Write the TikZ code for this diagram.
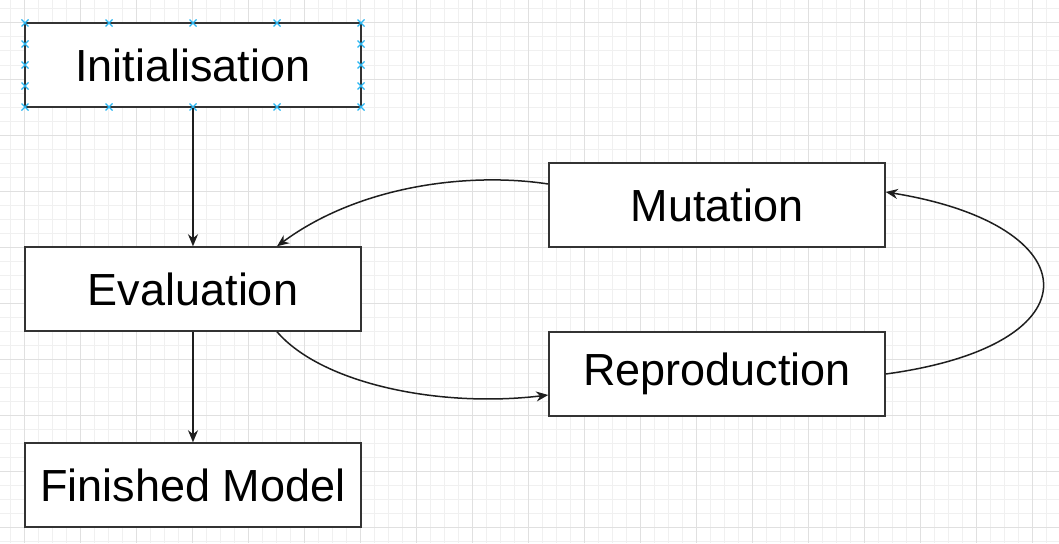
\documentclass[tikz,border=0pt]{standalone}
\usepackage{fontspec}
\setmainfont{Liberation Sans}
\usepackage{xcolor}
\usetikzlibrary{arrows.meta}

\begin{document}
\begin{tikzpicture}[x=1pt, y=-1pt,
    box/.style={draw=boxline, line width=1.5pt, fill=white, minimum width=336pt,
        minimum height=84pt, inner sep=0pt, font=\fontsize{45}{54}\selectfont},
    link/.style={draw=arrowline, line width=1.5pt, -{Stealth[length=12pt, width=10pt]}},
    minorgrid/.style={draw=black!6, line width=1pt},
    majorgrid/.style={draw=black!12, line width=1pt}]

% Define colors
\definecolor{boxline}{RGB}{51,51,51}
\definecolor{arrowline}{RGB}{30,30,30}
\definecolor{handle}{RGB}{41,182,242}

\useasboundingbox (0,0) rectangle (1059,543);

% Draw the background grid
\foreach \x in {10,24,...,1059} \draw[minorgrid] (\x,0) -- (\x,543);
\foreach \y in {9,23,...,543} \draw[minorgrid] (0,\y) -- (1059,\y);
\foreach \x in {24,80,...,1059} \draw[majorgrid] (\x,0) -- (\x,543);
\foreach \y in {23,79,...,543} \draw[majorgrid] (0,\y) -- (1059,\y);

% Draw the boxes
\node[box] (init) at (193,65) {Initialisation};
\node[box] (eval) at (193,289) {Evaluation};
\node[box] (fin) at (193,485) {Finished Model};
\node[box] (mut) at (717,205) {Mutation};
\node[box] (rep) at (717,374) {Reproduction};

% Selection handles on the first box
\foreach \x in {25,109,...,361} {
    \foreach \y in {23,107} {
        \draw[handle, line width=1.3pt] (\x-3.5,\y-3.5) -- (\x+3.5,\y+3.5) (\x-3.5,\y+3.5) -- (\x+3.5,\y-3.5);
    }
}
\foreach \x in {25,361} {
    \foreach \y in {44,65,86} {
        \draw[handle, line width=1.3pt] (\x-3.5,\y-3.5) -- (\x+3.5,\y+3.5) (\x-3.5,\y+3.5) -- (\x+3.5,\y-3.5);
    }
}

% Straight arrows down the left column
\draw[link] (init.south) -- (eval.north);
\draw[link] (eval.south) -- (fin.north);

% Curved arrows of the loop
\draw[link] ([yshift=21pt]mut.west) .. controls (470,172) and (360,185) .. ([xshift=84pt]eval.north);
\draw[link] ([xshift=84pt]eval.south) .. controls (322,384) and (440,408) .. ([yshift=-21pt]rep.west);
\draw[link] (rep.east) .. controls (1100,345) and (1090,225) .. ([yshift=13pt]mut.east);

\end{tikzpicture}
\end{document}
